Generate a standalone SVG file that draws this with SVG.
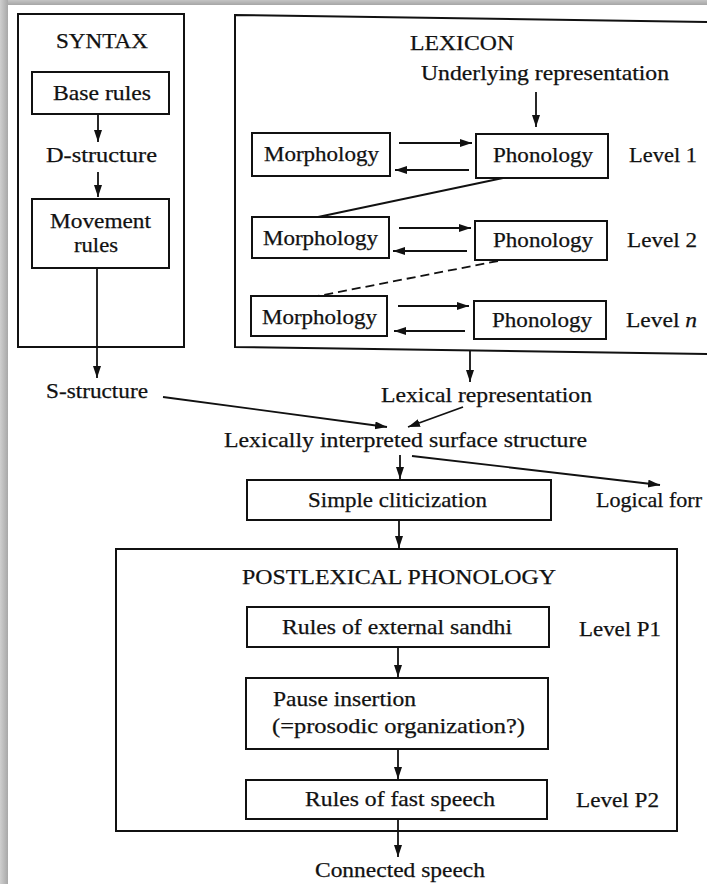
<svg xmlns="http://www.w3.org/2000/svg" width="707" height="884" viewBox="0 0 707 884">
<defs>
<style>
.bx{fill:#fff;stroke:#111;stroke-width:2}
.fr{fill:none;stroke:#111;stroke-width:2}
.t{font-family:"Liberation Serif","Times New Roman",serif;font-size:21px;fill:#111;stroke:#111;stroke-width:0.25}
.c{stroke:#111;stroke-width:1.8;fill:none}
.ca{stroke:#111;stroke-width:1.8;fill:none;marker-end:url(#ah)}
</style>
<marker id="ah" markerUnits="userSpaceOnUse" markerWidth="14" markerHeight="10" refX="12" refY="4" orient="auto">
<path d="M0,0 L12,4 L0,8 z" fill="#111"/>
</marker>
<linearGradient id="gt" x1="0" y1="0" x2="0" y2="1"><stop offset="0" stop-color="#c4c4c4"/><stop offset="1" stop-color="#a6a6a6"/></linearGradient>
<linearGradient id="gl" x1="0" y1="0" x2="1" y2="0"><stop offset="0" stop-color="#cfcfcf"/><stop offset="1" stop-color="#a8a8a8"/></linearGradient>
</defs>
<rect x="0" y="0" width="707" height="884" fill="#fff"/>
<rect x="0" y="0" width="707" height="5" fill="url(#gt)"/>
<rect x="0" y="0" width="8" height="884" fill="url(#gl)"/>

<g id="syntax">
<rect class="fr" x="18" y="14" width="166" height="333"/>
<text class="t" x="56" y="48" textLength="92" lengthAdjust="spacingAndGlyphs">SYNTAX</text>
</g>
<g id="base-rules">
<rect class="bx" x="32" y="72" width="137" height="42"/>
<text class="t" x="53" y="100" textLength="98" lengthAdjust="spacingAndGlyphs">Base rules</text>
</g>
<g id="d-structure">
<text class="t" x="46" y="162" textLength="111" lengthAdjust="spacingAndGlyphs">D-structure</text>
</g>
<g id="movement-rules">
<rect class="bx" x="32" y="199" width="137" height="69"/>
<text class="t" x="50" y="228" textLength="101" lengthAdjust="spacingAndGlyphs">Movement</text>
<text class="t" x="74" y="252" textLength="44" lengthAdjust="spacingAndGlyphs">rules</text>
</g>

<g id="lexicon">
<path class="fr" d="M707,22 L235,15 L235,347 L707,354"/>
<text class="t" x="410" y="50" textLength="104" lengthAdjust="spacingAndGlyphs">LEXICON</text>
</g>
<g id="underlying-representation">
<text class="t" x="421" y="80" textLength="248" lengthAdjust="spacingAndGlyphs">Underlying representation</text>
</g>
<g id="morphology-1">
<rect class="bx" x="252" y="133" width="138" height="43"/>
<text class="t" x="264" y="161" textLength="115" lengthAdjust="spacingAndGlyphs">Morphology</text>
</g>
<g id="phonology-1">
<rect class="bx" x="476" y="134" width="132" height="44"/>
<text class="t" x="493" y="162" textLength="100" lengthAdjust="spacingAndGlyphs">Phonology</text>
</g>
<g id="level-1"><text class="t" x="629" y="162" textLength="68" lengthAdjust="spacingAndGlyphs">Level 1</text></g>
<g id="morphology-2">
<rect class="bx" x="252" y="217" width="137" height="41"/>
<text class="t" x="263" y="245" textLength="115" lengthAdjust="spacingAndGlyphs">Morphology</text>
</g>
<g id="phonology-2">
<rect class="bx" x="475" y="221" width="132" height="39"/>
<text class="t" x="493" y="247" textLength="100" lengthAdjust="spacingAndGlyphs">Phonology</text>
</g>
<g id="level-2"><text class="t" x="627" y="247" textLength="70" lengthAdjust="spacingAndGlyphs">Level 2</text></g>
<g id="morphology-n">
<rect class="bx" x="251" y="296" width="136" height="40"/>
<text class="t" x="262" y="324" textLength="115" lengthAdjust="spacingAndGlyphs">Morphology</text>
</g>
<g id="phonology-n">
<rect class="bx" x="474" y="301" width="132" height="38"/>
<text class="t" x="492" y="327" textLength="100" lengthAdjust="spacingAndGlyphs">Phonology</text>
</g>
<g id="level-n"><text class="t" x="626" y="327" textLength="71" lengthAdjust="spacingAndGlyphs">Level <tspan font-style="italic">n</tspan></text></g>

<g id="s-structure"><text class="t" x="46" y="398" textLength="102" lengthAdjust="spacingAndGlyphs">S-structure</text></g>
<g id="lexical-representation"><text class="t" x="381" y="402" textLength="211" lengthAdjust="spacingAndGlyphs">Lexical representation</text></g>
<g id="lexically-interpreted"><text class="t" x="224" y="447" textLength="363" lengthAdjust="spacingAndGlyphs">Lexically interpreted surface structure</text></g>
<g id="simple-cliticization">
<rect class="bx" x="247" y="480" width="304" height="40"/>
<text class="t" x="308" y="507" textLength="179" lengthAdjust="spacingAndGlyphs">Simple cliticization</text>
</g>
<g id="logical-form"><text class="t" x="596" y="507" textLength="106" lengthAdjust="spacingAndGlyphs">Logical forr</text></g>

<g id="postlexical">
<rect class="fr" x="116" y="549" width="561" height="282"/>
<text class="t" x="242" y="584" textLength="314" lengthAdjust="spacingAndGlyphs">POSTLEXICAL PHONOLOGY</text>
</g>
<g id="external-sandhi">
<rect class="bx" x="247" y="607" width="302" height="40"/>
<text class="t" x="282" y="634" textLength="230" lengthAdjust="spacingAndGlyphs">Rules of external sandhi</text>
</g>
<g id="level-p1"><text class="t" x="579" y="636" textLength="82" lengthAdjust="spacingAndGlyphs">Level P1</text></g>
<g id="pause-insertion">
<rect class="bx" x="246" y="678" width="302" height="71"/>
<text class="t" x="273" y="706" textLength="143" lengthAdjust="spacingAndGlyphs">Pause insertion</text>
<text class="t" x="272" y="733" textLength="253" lengthAdjust="spacingAndGlyphs">(=prosodic organization?)</text>
</g>
<g id="fast-speech">
<rect class="bx" x="246" y="780" width="301" height="39"/>
<text class="t" x="305" y="806" textLength="190" lengthAdjust="spacingAndGlyphs">Rules of fast speech</text>
</g>
<g id="level-p2"><text class="t" x="576" y="807" textLength="83" lengthAdjust="spacingAndGlyphs">Level P2</text></g>
<g id="connected-speech"><text class="t" x="315" y="877" textLength="170" lengthAdjust="spacingAndGlyphs">Connected speech</text></g>

<g id="connectors">
<line class="ca" x1="98" y1="114" x2="98" y2="142"/>
<line class="ca" x1="98" y1="172" x2="98" y2="197"/>
<line class="ca" x1="97" y1="268" x2="97" y2="378"/>
<line class="ca" x1="536" y1="92" x2="536" y2="127"/>
<line class="ca" x1="399" y1="143" x2="472" y2="143"/>
<line class="ca" x1="469" y1="170" x2="395" y2="170"/>
<line class="c" x1="503" y1="178" x2="318" y2="217"/>
<line class="ca" x1="399" y1="228" x2="471" y2="228"/>
<line class="ca" x1="467" y1="251" x2="393" y2="251"/>
<line class="c" x1="498" y1="261" x2="318" y2="296" stroke-dasharray="9,5"/>
<line class="ca" x1="398" y1="306" x2="469" y2="306"/>
<line class="ca" x1="465" y1="331" x2="394" y2="331"/>
<line class="ca" x1="470" y1="351" x2="470" y2="382"/>
<line class="ca" x1="163" y1="397" x2="387" y2="427"/>
<line class="ca" x1="463" y1="407" x2="408" y2="427"/>
<line class="ca" x1="400" y1="455" x2="400" y2="479"/>
<line class="ca" x1="412" y1="456" x2="660" y2="485"/>
<line class="ca" x1="399" y1="520" x2="399" y2="548"/>
<line class="ca" x1="398" y1="647" x2="398" y2="677"/>
<line class="ca" x1="398" y1="749" x2="398" y2="779"/>
<line class="ca" x1="398" y1="819" x2="398" y2="857"/>
</g>
</svg>
